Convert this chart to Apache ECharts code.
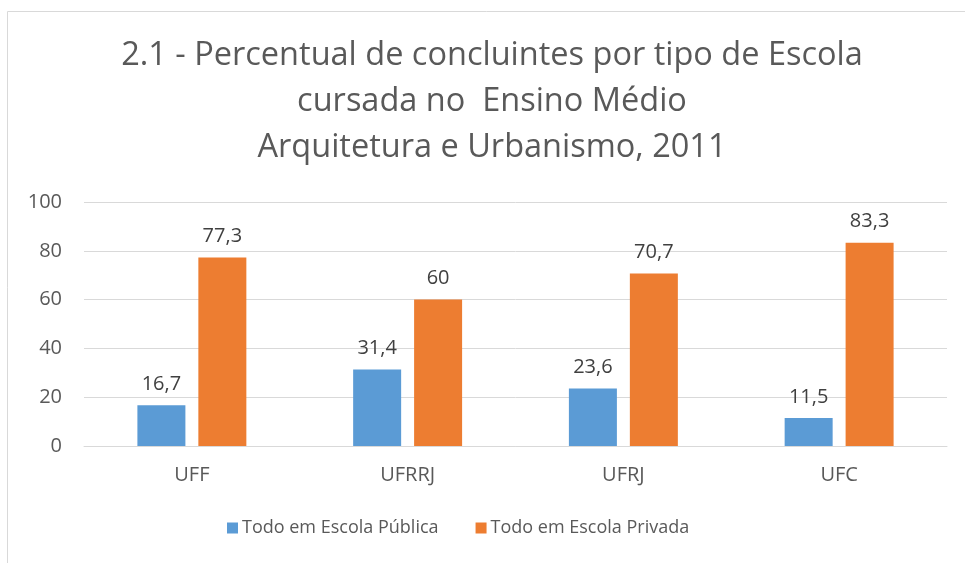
<!DOCTYPE html>
<html>
<head>
<meta charset="utf-8">
<script src="https://cdn.jsdelivr.net/npm/echarts@6/dist/echarts.min.js"></script>
<style>
  html, body { margin: 0; padding: 0; background: #fff; }
  #chart { width: 965px; height: 563px; }
</style>
</head>
<body>
<div id="chart"></div>
<script>
const universidades = ['UFF', 'UFRRJ', 'UFRJ', 'UFC']
const escolaPublica = [16.7, 31.4, 23.6, 11.5]
const escolaPrivada = [77.3, 60, 70.7, 83.3]
const serieNomes = ['Todo em Escola Pública', 'Todo em Escola Privada']

const fonte = 'Open Sans'
const cinza = '#595959'

// rotulo com virgula decimal
const rotulo = {
  show: true,
  position: 'top',
  distance: 11,
  color: '#404040',
  fontFamily: fonte,
  fontSize: 20,
  formatter: p => String(p.value).replace('.', ',')
}

const chart = echarts.init(document.getElementById('chart'))
chart.setOption({
  animation: false,
  textStyle: { fontFamily: fonte },
  title: {
    text: '2.1 - Percentual de concluintes por tipo de Escola\ncursada no  Ensino Médio\nArquitetura e Urbanismo, 2011',
    left: 487,
    top: 28,
    textAlign: 'center',
    textStyle: {
      fontFamily: fonte,
      fontWeight: 'normal',
      fontSize: 32.5,
      lineHeight: 46,
      color: cinza
    }
  },
  graphic: [{
    type: 'rect',
    shape: { x: 7.5, y: 11.5, width: 1000, height: 600 },
    style: { fill: 'none', stroke: '#d9d9d9', lineWidth: 1 },
    silent: true
  }],
  legend: {
    data: serieNomes,
    bottom: 21,
    left: 222,
    icon: 'rect',
    itemWidth: 11,
    itemHeight: 11,
    itemGap: 37,
    textStyle: { fontFamily: fonte, fontSize: 18, color: cinza, padding: [0, 0, 0, -1] }
  },
  grid: { left: 84, right: 18, top: 202, bottom: 117 },
  xAxis: {
    type: 'category',
    data: universidades,
    axisTick: { show: false },
    axisLine: { lineStyle: { color: '#d9d9d9', width: 1 } },
    axisLabel: { color: cinza, fontSize: 20, margin: 19, fontFamily: fonte }
  },
  yAxis: {
    type: 'value',
    min: 0,
    max: 100,
    interval: 20,
    axisLine: { show: false },
    axisTick: { show: false },
    splitLine: { lineStyle: { color: '#d9d9d9', width: 1 } },
    axisLabel: { color: cinza, fontSize: 20, margin: 22, fontFamily: fonte }
  },
  series: [
    {
      name: serieNomes[0],
      type: 'bar',
      data: escolaPublica,
      barWidth: 48,
      barGap: '27%',
      itemStyle: { color: '#5b9bd5' },
      label: rotulo
    },
    {
      name: serieNomes[1],
      type: 'bar',
      data: escolaPrivada,
      barWidth: 48,
      barGap: '27%',
      itemStyle: { color: '#ed7d31' },
      label: rotulo
    }
  ]
})
</script>
</body>
</html>
